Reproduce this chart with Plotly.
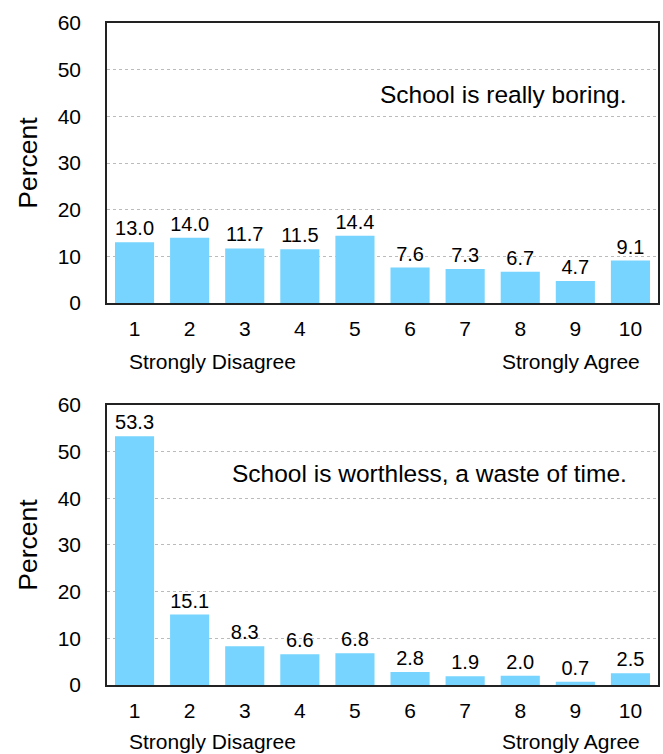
import plotly.graph_objects as go

categories = [1, 2, 3, 4, 5, 6, 7, 8, 9, 10]
boring = [13.0, 14.0, 11.7, 11.5, 14.4, 7.6, 7.3, 6.7, 4.7, 9.1]
worthless = [53.3, 15.1, 8.3, 6.6, 6.8, 2.8, 1.9, 2.0, 0.7, 2.5]
titles = ["School is really boring.", "School is worthless, a waste of time."]
y_ticks = [0, 10, 20, 30, 40, 50, 60]

BAR = "#76D4FE"
FONT = "Liberation Sans, Arial, Helvetica, sans-serif"

fig = go.Figure()
for vals, ax in [(boring, ""), (worthless, "2")]:
    fig.add_trace(go.Bar(
        x=categories, y=vals, xaxis="x" + ax, yaxis="y" + ax,
        marker=dict(color=BAR, line=dict(width=0)),
        text=[f"{v:.1f}" for v in vals], textposition="outside",
        textfont=dict(size=20, color="black", family=FONT),
        cliponaxis=False, showlegend=False,
    ))

xcommon = dict(range=[0.5, 10.5], tickmode="array", tickvals=categories,
               ticktext=[str(c) for c in categories],
               showline=True, mirror=True, linecolor="#222", linewidth=1.5,
               showgrid=False, zeroline=False, ticks="", ticklabelstandoff=6,
               automargin=False,
               tickfont=dict(size=21, color="black", family=FONT))
ycommon = dict(range=[0, 60], tickmode="array", tickvals=y_ticks,
               showline=True, mirror=True, linecolor="#222", linewidth=1.5,
               showgrid=True, gridcolor="#bbbbbb", griddash="dot", gridwidth=1,
               zeroline=False, ticks="", ticklabelstandoff=20, automargin=False,
               tickfont=dict(size=21, color="black", family=FONT),
               title=dict(text="Percent", font=dict(size=26.5, color="black", family=FONT), standoff=12))

fig.update_layout(
    width=663, height=754,
    margin=dict(l=107, r=5, t=23, b=69),
    plot_bgcolor="white", paper_bgcolor="white",
    bargap=0.29,
    font=dict(family=FONT, color="black"),
    xaxis=dict(domain=[0, 1], anchor="y", **xcommon),
    yaxis=dict(domain=[0.577, 1], anchor="x", **ycommon),
    xaxis2=dict(domain=[0, 1], anchor="y2", **xcommon),
    yaxis2=dict(domain=[0, 0.423], anchor="x2", **ycommon),
)

annots = [
    dict(text=titles[0], xref="x domain", yref="y domain", x=0.946, y=0.746,
         xanchor="right", yanchor="middle", font=dict(size=24.5)),
    dict(text=titles[1], xref="x2 domain", yref="y2 domain", x=0.947, y=0.757,
         xanchor="right", yanchor="middle", font=dict(size=24.5)),
    dict(text="Strongly Disagree", xref="x", yref="paper", x=2.42, y=0.489,
         xanchor="center", yanchor="middle", font=dict(size=21)),
    dict(text="Strongly Agree", xref="x", yref="paper", x=8.92, y=0.489,
         xanchor="center", yanchor="middle", font=dict(size=21)),
    dict(text="Strongly Disagree", xref="x2", yref="paper", x=2.42, y=-0.086,
         xanchor="center", yanchor="middle", font=dict(size=21)),
    dict(text="Strongly Agree", xref="x2", yref="paper", x=8.92, y=-0.086,
         xanchor="center", yanchor="middle", font=dict(size=21)),
]
for a in annots:
    a["showarrow"] = False
    a["font"]["color"] = "black"
    a["font"]["family"] = FONT
fig.update_layout(annotations=annots)

fig.write_html("out.html", config={"displayModeBar": False},
               post_script="document.body.style.margin='0';document.body.style.padding='0';")
